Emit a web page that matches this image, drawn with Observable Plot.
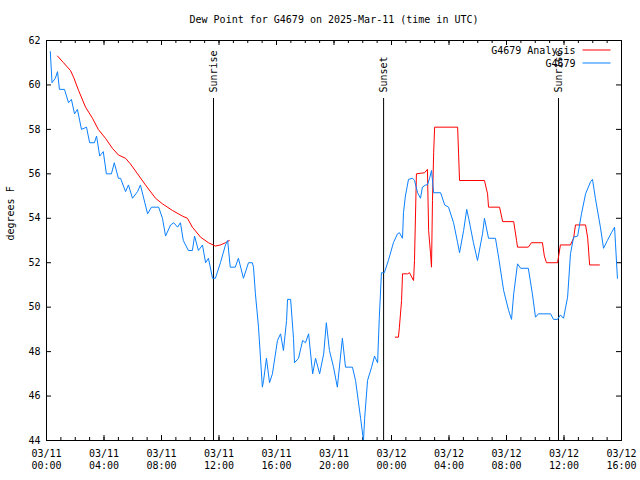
<!DOCTYPE html>
<html>
<head>
<meta charset="utf-8">
<script src="https://cdn.jsdelivr.net/npm/d3@7"></script>
<script src="https://cdn.jsdelivr.net/npm/@observablehq/plot@0.6"></script>
<style>
  html, body { margin: 0; padding: 0; background: #fff; }
</style>
</head>
<body>
<div id="chart"></div>
<script>
// ---- Data (minutes after 2025-03-11 00:00 UTC, dew point in °F) ----
const titleText = "Dew Point for G4679 on 2025-Mar-11 (time in UTC)";
const yLabel = "degrees F";
const seriesNames = ["G4679 Analysis", "G4679"];
const seriesColors = ["#ff0000", "#0a80ff"];

const obsMinutes = [16,23,37,46,54,75,92,104,117,129,146,167,180,200,209,222,237,250,271,283,
  300,309,330,342,359,380,392,422,438,468,484,497,518,531,547,559,571,592,609,618,
  634,651,664,676,693,705,726,747,756,767,788,801,822,843,859,864,872,885,901,906,
  918,931,943,964,977,989,1002,1006,1019,1031,1035,1052,1069,1081,1094,1111,1123,1140,1157,1168,
  1181,1198,1214,1235,1248,1277,1290,1311,1323,1328,1340,1357,1369,1382,1389,1398,1410,1427,1448,1465,
  1473,1486,1490,1498,1511,1528,1536,1549,1561,1569,1582,1590,1599,1607,1616,1645,1662,1678,1699,1716,
  1724,1741,1754,1762,1782,1799,1820,1828,1845,1874,1887,1908,1929,1941,1950,1966,1979,2011,2028,2041,
  2053,2104,2116,2133,2145,2158,2175,2187,2200,2217,2233,2250,2271,2279,2291,2312,2325,2341,2358,2371,
  2375,2383];
const obsValues = [61.5,60.1,60.3,60.6,59.8,59.8,59.2,59.35,58.7,58.9,58.0,58.1,57.4,57.4,57.7,56.8,57.0,56.0,56.0,56.5,
  55.8,55.8,55.2,55.5,54.9,55.2,55.5,54.2,54.5,54.5,54.0,53.2,53.7,53.8,53.6,53.8,53.0,52.55,52.55,53.2,
  52.55,52.8,52.0,52.2,51.3,51.3,52.0,52.8,53.0,51.8,51.8,52.2,51.3,52.0,52.0,51.8,50.6,49.1,46.4,46.7,
  47.7,46.6,47.0,48.5,48.8,48.05,49.4,50.35,50.35,48.6,47.5,47.7,48.5,48.4,48.8,47.0,47.7,47.0,47.9,49.3,
  48.05,47.3,46.4,48.6,47.3,47.3,46.7,45.0,44.0,45.0,46.7,47.3,47.8,47.5,49.5,51.55,51.55,52.1,52.9,53.3,
  53.35,53.1,54.25,55.0,55.75,55.8,55.7,55.15,54.9,55.4,55.5,55.5,55.8,56.15,55.15,55.15,54.6,54.5,53.8,52.9,
  52.45,53.45,54.4,54.0,52.9,52.1,53.3,54.0,53.1,53.1,52.25,50.75,49.85,49.45,50.6,51.95,51.75,51.75,50.6,49.55,
  49.7,49.7,49.45,49.45,49.65,49.5,50.45,52.4,53.15,53.2,54.2,55.1,55.65,55.75,54.9,53.6,52.65,53.0,53.35,53.6,
  52.85,51.3];

const anaMinutes = [46,71,100,113,134,163,192,216,246,275,300,330,350,380,413,455,484,526,567,588,
  609,643,676,705,726,747,763,
  900,
  1456,1469,1473,1482,1486,1507,1515,1532,1536,1544,1578,1590,1595,1603,1607,1611,1616,1620,1716,1720,
  1724,1828,1841,1845,1891,1904,1950,1962,1966,2011,2024,2070,2078,2087,2133,2137,2145,2187,2200,2208,
  2250,2259,2267,2308];
const anaValues = [61.3,61.0,60.65,60.35,59.75,59.0,58.5,58.0,57.6,57.15,56.85,56.7,56.45,56.0,55.5,54.9,54.65,54.35,54.1,54.0,
  53.6,53.15,52.9,52.75,52.8,52.9,53.0,
  null,
  48.65,48.65,49.1,50.3,51.5,51.5,51.55,51.2,52.1,56.0,56.05,56.2,53.45,52.4,51.8,54.8,56.95,58.1,58.1,56.9,
  55.7,55.7,55.1,54.5,54.5,53.85,53.85,53.0,52.7,52.7,52.9,52.9,52.3,52.0,52.0,52.25,52.8,52.8,53.1,53.7,
  53.7,53.1,51.9,51.9];

const sunLabels = ["Sunrise", "Sunset", "Sunrise"];
const sunMinutes = [697, 1407, 2137];

const yTicks = [44, 46, 48, 50, 52, 54, 56, 58, 60, 62];
const majorTickHours = [0, 4, 8, 12, 16, 20, 24, 28, 32, 36, 40];
const minorTickHours = d3.range(0, 41);

// ---- Build tables ----
const startMs = Date.UTC(2025, 2, 11, 0, 0);
const toDate = m => new Date(startMs + m * 60000);
const obs = obsMinutes.map((m, i) => ({t: toDate(m), v: obsValues[i]}));
const ana = anaMinutes.map((m, i) => ({t: toDate(m), v: anaValues[i]}));
const sun = sunMinutes.map((m, i) => ({t: toDate(m), label: sunLabels[i]}));
const majorTicks = majorTickHours.map(h => toDate(h * 60));
const minorTicks = minorTickHours.map(h => toDate(h * 60));

const W = 640, H = 480, mL = 46, mR = 19, mT = 40, mB = 40;
const fw = W - mL - mR, fh = H - mT - mB;

const chart = Plot.plot({
  width: W, height: H,
  marginLeft: mL, marginRight: mR, marginTop: mT, marginBottom: mB,
  style: {fontFamily: "'DejaVu Sans Mono', monospace", fontSize: "10px", color: "black", background: "white"},
  x: {type: "utc", domain: [toDate(0), toDate(2400)], label: null},
  y: {domain: [44, 62], label: null},
  marks: [
    // tick marks (inward, mirrored)
    Plot.tickX(minorTicks, {x: d => d, insetTop: fh - 3, stroke: "black"}),
    Plot.tickX(minorTicks, {x: d => d, insetBottom: fh - 3, stroke: "black"}),
    Plot.tickX(majorTicks, {x: d => d, insetTop: fh - 5, stroke: "black"}),
    Plot.tickX(majorTicks, {x: d => d, insetBottom: fh - 5, stroke: "black"}),
    Plot.tickY(yTicks, {y: d => d, insetRight: fw - 5, stroke: "black"}),
    Plot.tickY(yTicks, {y: d => d, insetLeft: fw - 5, stroke: "black"}),
    // axis labels
    Plot.axisX({ticks: majorTicks, tickSize: 0, tickPadding: 9, tickFormat: d3.utcFormat("%m/%d"), label: null}),
    Plot.axisX({ticks: majorTicks, tickSize: 0, tickPadding: 21, tickFormat: d3.utcFormat("%H:%M"), label: null}),
    Plot.axisY({ticks: yTicks, tickSize: 0, tickPadding: 6, tickFormat: d => String(d), label: null}),
    // sunrise / sunset
    Plot.ruleX(sun, {x: "t", insetTop: 58, stroke: "black", strokeWidth: 1}),
    Plot.text(sun, {x: "t", text: "label", frameAnchor: "top", dy: 52, rotate: -90, textAnchor: "start", lineAnchor: "middle", fill: "black"}),
    // series
    Plot.line(ana, {x: "t", y: "v", stroke: seriesColors[0], strokeWidth: 1, clip: true}),
    Plot.line(obs, {x: "t", y: "v", stroke: seriesColors[1], strokeWidth: 1, clip: true}),
    // frame
    Plot.frame({stroke: "black"}),
    // title & y label
    Plot.text([titleText], {frameAnchor: "top", dy: -21, lineAnchor: "middle", fill: "black"}),
    Plot.text([yLabel], {frameAnchor: "left", dx: -36, rotate: -90, lineAnchor: "middle", fill: "black"}),
    // legend
    Plot.text([seriesNames[0]], {frameAnchor: "top-right", dx: -46, dy: 10, textAnchor: "end", lineAnchor: "middle", fill: "black"}),
    Plot.text([seriesNames[1]], {frameAnchor: "top-right", dx: -46, dy: 23, textAnchor: "end", lineAnchor: "middle", fill: "black"}),
    Plot.frame({fill: seriesColors[0], stroke: null, insetLeft: fw - 39, insetRight: 11, insetTop: 9, insetBottom: fh - 10}),
    Plot.frame({fill: seriesColors[1], stroke: null, insetLeft: fw - 39, insetRight: 11, insetTop: 22, insetBottom: fh - 23})
  ]
});
document.getElementById("chart").appendChild(chart);
</script>
</body>
</html>
